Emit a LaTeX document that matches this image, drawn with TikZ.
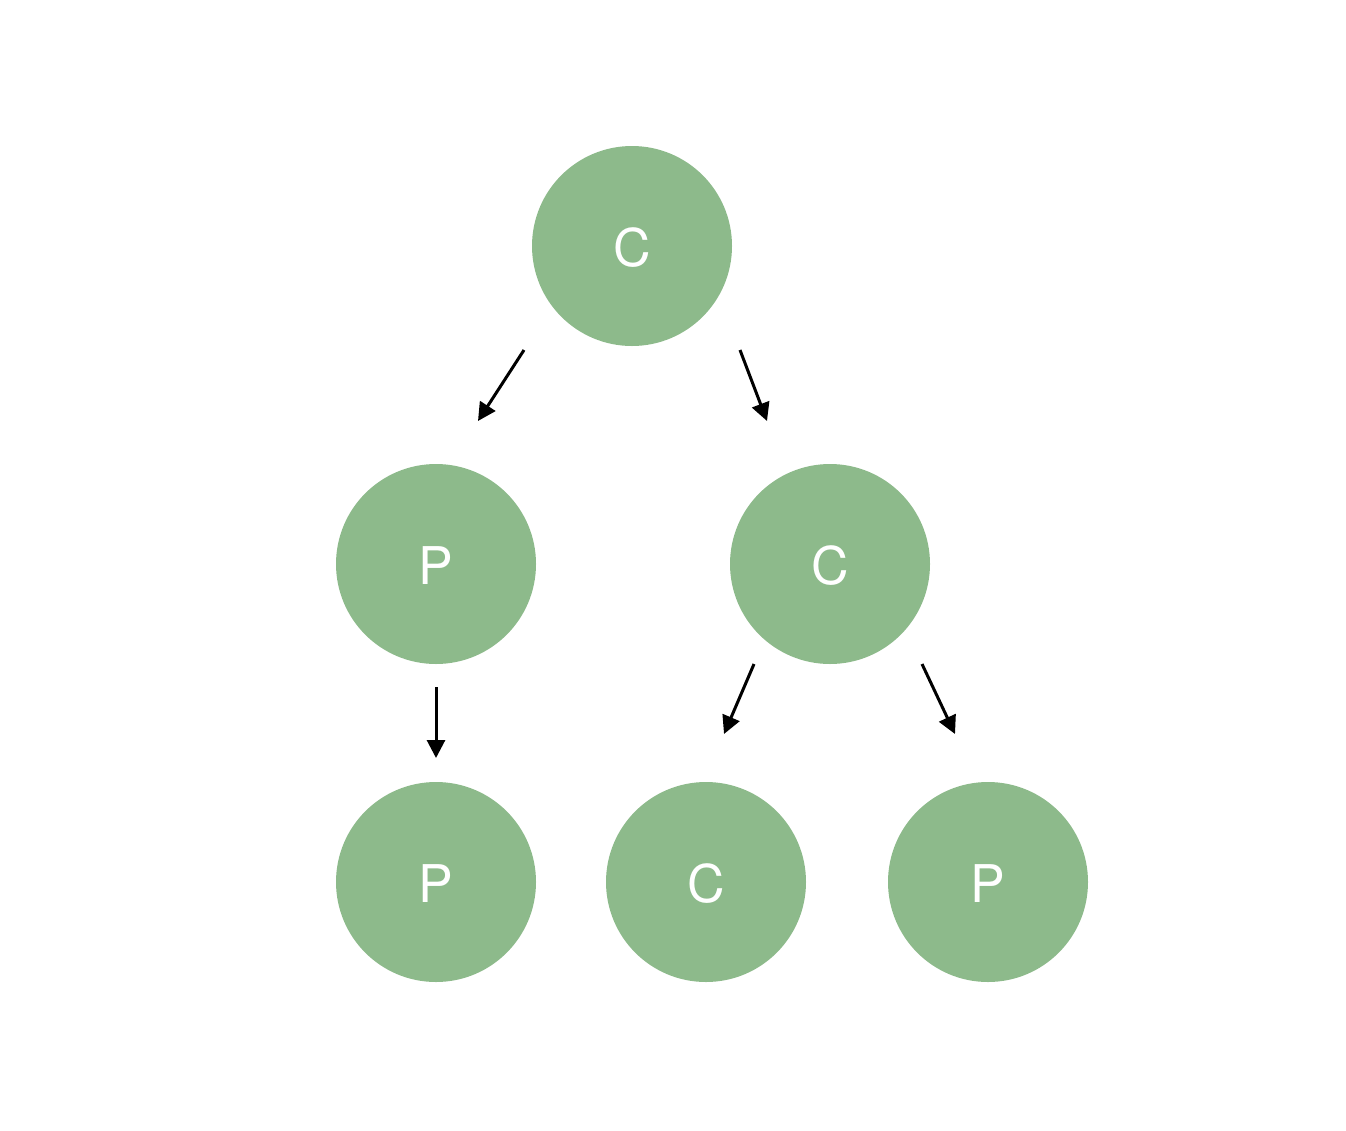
\documentclass[tikz,border=0pt]{standalone}
\usepackage{fontspec}
\setmainfont{TeX Gyre Heros}
\usetikzlibrary{arrows.meta}
\definecolor{nodegreen}{HTML}{8DBA8B}
\begin{document}
\begin{tikzpicture}[x=1pt,y=-1pt,
  tnode/.style={circle,fill=nodegreen,minimum size=200pt,inner sep=0pt,text=white,font=\fontsize{52}{52}\selectfont},
  lbl/.style={text=white,font=\fontsize{52}{52}\selectfont,yshift=-2pt},
  arr/.style={line width=3pt,-{Triangle[length=18pt,width=18pt]}}]
\useasboundingbox (0,0) rectangle (1346,1130);
\node[tnode] (r) at (632,246) {};
\node[tnode] (p1) at (436,564) {};
\node[tnode] (c1) at (830,564) {};
\node[tnode] (p2) at (436,882) {};
\node[tnode] (c2) at (706,882) {};
\node[tnode] (p3) at (988,882) {};
\node[lbl] (rl) at (r) {C};
\node[lbl] (p1l) at (p1) {P};
\node[lbl] (c1l) at (c1) {C};
\node[lbl] (p2l) at (p2) {P};
\node[lbl] (c2l) at (c2) {C};
\node[lbl] (p3l) at (p3) {P};
\coordinate (a1s) at (524,350); \coordinate (a1e) at (478,421);
\coordinate (a2s) at (740,350); \coordinate (a2e) at (767,421);
\coordinate (a3s) at (436,687); \coordinate (a3e) at (436,758);
\coordinate (a4s) at (754,664); \coordinate (a4e) at (724,734);
\coordinate (a5s) at (922,664); \coordinate (a5e) at (955,734);
\draw[arr] (a1s) -- (a1e);
\draw[arr] (a2s) -- (a2e);
\draw[arr] (a3s) -- (a3e);
\draw[arr] (a4s) -- (a4e);
\draw[arr] (a5s) -- (a5e);
\end{tikzpicture}
\end{document}
